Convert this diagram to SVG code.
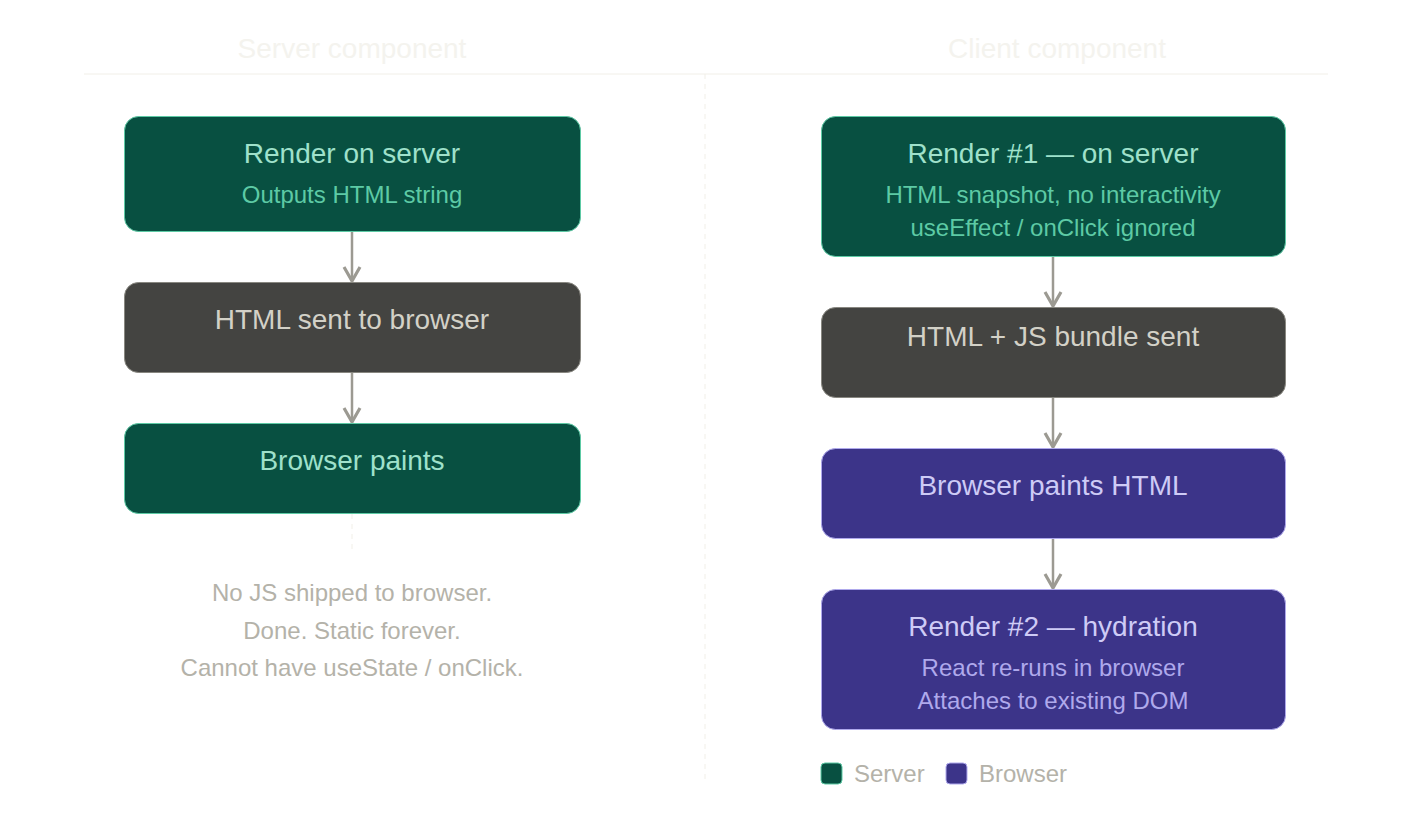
<svg xmlns="http://www.w3.org/2000/svg" width="1410" height="830" viewBox="0 0 1410 830">
<style>
text{font-family:"Liberation Sans",Arial,sans-serif;text-anchor:middle}
.g{fill:#085041;stroke:#5DCAA5;stroke-width:1}
.d{fill:#444441;stroke:#888780;stroke-width:1}
.p{fill:#3C3489;stroke:#AFA9EC;stroke-width:1}
.t{font-size:28px}
.s{font-size:24px}
.gt{fill:#9FE1CB}.gs{fill:#5DCAA5}
.dt{fill:#D3D1C7}
.pt{fill:#CECBF6}.ps{fill:#AFA9EC}
.c{stroke:#9C9A92;stroke-width:2.5;fill:none}
.n{font-size:24px;fill:#B4B2A9}
</style>
<defs><marker id="a" viewBox="0 0 10 10" refX="8" refY="5" markerWidth="8" markerHeight="8" orient="auto"><path d="M1 1L8 5L1 9" fill="none" stroke="#9C9A92" stroke-width="1.6"/></marker></defs>
<text x="352" y="58" font-size="28" fill="#F4F3EE">Server component</text>
<text x="1057" y="58" font-size="28" fill="#F4F3EE">Client component</text>
<line x1="84" y1="74" x2="1328" y2="74" stroke="#F1EFE8"/>
<line x1="705" y1="74" x2="705" y2="780" stroke="#F1EFE8" stroke-dasharray="5 5"/>
<line x1="352" y1="514" x2="352" y2="552" stroke="#F1EFE8" stroke-dasharray="5 5"/>
<g id="connectors">
<line class="c" x1="352" y1="232" x2="352" y2="281" marker-end="url(#a)"/>
<line class="c" x1="352" y1="373" x2="352" y2="422" marker-end="url(#a)"/>
<line class="c" x1="1053" y1="257" x2="1053" y2="306" marker-end="url(#a)"/>
<line class="c" x1="1053" y1="398" x2="1053" y2="447" marker-end="url(#a)"/>
<line class="c" x1="1053" y1="539" x2="1053" y2="588" marker-end="url(#a)"/>
</g>
<g id="s1"><rect class="g" x="124.5" y="116.5" width="456" height="115" rx="14"/><text class="t gt" x="352" y="163">Render on server</text><text class="s gs" x="352" y="203">Outputs HTML string</text></g>
<g id="s2"><rect class="d" x="124.5" y="282.5" width="456" height="90" rx="14"/><text class="t dt" x="352" y="329">HTML sent to browser</text></g>
<g id="s3"><rect class="g" x="124.5" y="423.5" width="456" height="90" rx="14"/><text class="t gt" x="352" y="470">Browser paints</text></g>
<g id="note"><text class="n" x="352" y="601">No JS shipped to browser.</text><text class="n" x="352" y="639">Done. Static forever.</text><text class="n" x="352" y="676">Cannot have useState / onClick.</text></g>
<g id="c1"><rect class="g" x="821.5" y="116.5" width="464" height="140" rx="14"/><text class="t gt" x="1053" y="163">Render #1 — on server</text><text class="s gs" x="1053" y="203">HTML snapshot, no interactivity</text><text class="s gs" x="1053" y="236">useEffect / onClick ignored</text></g>
<g id="c2"><rect class="d" x="821.5" y="307.5" width="464" height="90" rx="14"/><text class="t dt" x="1053" y="346">HTML + JS bundle sent</text></g>
<g id="c3"><rect class="p" x="821.5" y="448.5" width="464" height="90" rx="14"/><text class="t pt" x="1053" y="495">Browser paints HTML</text></g>
<g id="c4"><rect class="p" x="821.5" y="589.5" width="464" height="140" rx="14"/><text class="t pt" x="1053" y="636">Render #2 — hydration</text><text class="s ps" x="1053" y="676">React re-runs in browser</text><text class="s ps" x="1053" y="709">Attaches to existing DOM</text></g>
<g id="legend"><rect class="g" x="821" y="763" width="21" height="21" rx="4" stroke-width="1.5"/><text class="n" x="854" y="782" text-anchor="start" style="text-anchor:start">Server</text><rect class="p" x="946" y="763" width="21" height="21" rx="4" stroke-width="1.5"/><text class="n" x="979" y="782" style="text-anchor:start">Browser</text></g>
</svg>
